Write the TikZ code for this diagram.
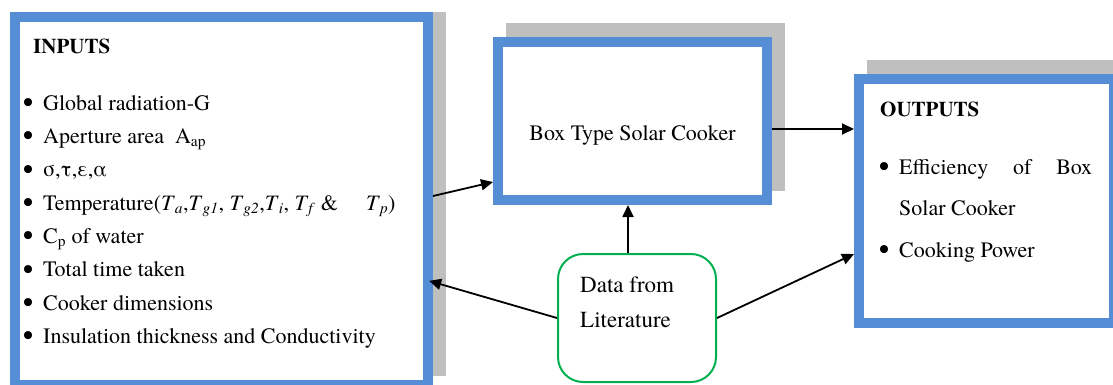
\documentclass[tikz,border=0pt]{standalone}
\usepackage{fontspec}
\setmainfont{texgyretermes}[Extension=.otf,UprightFont=*-regular,BoldFont=*-bold,ItalicFont=*-italic,BoldItalicFont=*-bolditalic]
\usetikzlibrary{arrows.meta,backgrounds}
\definecolor{boxblue}{RGB}{85,142,213}
\definecolor{shadowgray}{RGB}{191,191,191}
\definecolor{datagreen}{RGB}{0,176,80}
\newcommand{\Tsub}[1]{\textit{T}\textsubscript{\textit{#1}}}
\newcommand{\bigbul}{\raisebox{-2.5pt}{\fontsize{30}{30}\selectfont\textbullet}}
\begin{document}
\begin{tikzpicture}[x=1pt,y=-1pt,
  bluebox/.style={draw=boxblue,line width=10pt,fill=white,inner sep=0pt},
  txt/.style={anchor=base west,inner sep=0pt,font=\fontsize{22}{26}\selectfont},
  ttl/.style={anchor=base west,inner sep=0pt,font=\fontsize{21}{25}\selectfont\bfseries},
  bul/.style={anchor=base,inner sep=0pt,font=\fontsize{22}{26}\selectfont},
  datatxt/.style={anchor=base west,inner sep=0pt,font=\fontsize{23}{27}\selectfont},
  arr/.style={line width=1.8pt,-{Triangle[length=12pt,width=11pt]}}]
\useasboundingbox (0,0) rectangle (1113,384);
\clip (0,0) rectangle (1113,384);

% boxes
\node[bluebox,minimum width=413pt,minimum height=368pt] (inputs) at (221.5,201) {};
\node[bluebox,minimum width=269pt,minimum height=158pt,font=\fontsize{22}{26}\selectfont] (cooker) at (632.5,121) {\raisebox{-19pt}[0pt][0pt]{Box Type Solar Cooker}};
\node[bluebox,minimum width=255pt,minimum height=244pt] (outputs) at (986.5,201) {};
\node[draw=datagreen,line width=2pt,rounded corners=25pt,fill=white,minimum width=158pt,minimum height=128pt] (data) at (637,318) {};

% shadows
\begin{scope}[on background layer]
\fill[shadowgray] ([xshift=13pt]inputs.north west) rectangle ([shift={(13pt,14pt)}]inputs.south east);
\fill[shadowgray] ([shift={(13pt,14pt)}]cooker.north west) rectangle ([shift={(13pt,14pt)}]cooker.south east);
\fill[shadowgray] ([shift={(13pt,14pt)}]outputs.north west) rectangle ([shift={(13pt,14pt)}]outputs.south east);
\end{scope}

% inputs text
\node[ttl] (intitle) at (33,53) {INPUTS};
\node[bul] (ib1) at (28,110) {\bigbul};
\node[txt] (in1) at (43,110) {Global radiation-G};
\node[bul] (ib2) at (28,143.3) {\bigbul};
\node[txt] (in2) at (43,143.3) {Aperture area\ \ A\textsubscript{ap}};
\node[bul] (ib3) at (28,176.6) {\bigbul};
\node[txt] (in3) at (43,176.6) {σ,τ,ε,α};
\node[bul] (ib4) at (28,210) {\bigbul};
\node[txt] (in4) at (43,210) {Temperature(\Tsub{a},\Tsub{g1}, \Tsub{g2},\Tsub{i}, \Tsub{f} \&\hspace{28pt}\Tsub{p})};
\node[bul] (ib5) at (28,243.3) {\bigbul};
\node[txt] (in5) at (43,243.3) {C\textsubscript{p} of water};
\node[bul] (ib6) at (28,276.6) {\bigbul};
\node[txt] (in6) at (43,276.6) {Total time taken};
\node[bul] (ib7) at (28,310) {\bigbul};
\node[txt] (in7) at (43,310) {Cooker dimensions};
\node[bul] (ib8) at (28,343.3) {\bigbul};
\node[txt] (in8) at (43,343.3) {Insulation thickness and Conductivity};

% outputs text
\node[ttl] (outtitle) at (880,116) {OUTPUTS};
\node[bul] (ob1) at (884,174) {\bigbul};
\node[txt] (out1) at (899,174) {\makebox[193pt][s]{Efficiency\hfill of\hfill Box}};
\node[txt] (out1b) at (899,215) {Solar Cooker};
\node[bul] (ob2) at (884,257) {\bigbul};
\node[txt] (out2) at (899,257) {Cooking Power};

% data text
\node[datatxt] (dl1) at (580,292) {Data from};
\node[datatxt] (dl2) at (580,327) {Literature};

% connectors
\coordinate (a1s) at ([yshift=5pt]inputs.east);
\coordinate (a1e) at ([yshift=23pt]cooker.south west);
\draw[arr] (a1s) -- (a1e);
\coordinate (a2s) at ([yshift=-8pt]cooker.east);
\draw[arr] (a2s) -- (a2s -| outputs.west);
\coordinate (a3s) at ([xshift=-9pt]data.north);
\draw[arr] (a3s) -- (a3s |- cooker.south);
\draw[arr,shorten >=-4pt] (data.west) -- ([yshift=-81pt]inputs.east);
\draw[arr] (data.east) -- ([yshift=-53pt]outputs.west);
\end{tikzpicture}
\end{document}
